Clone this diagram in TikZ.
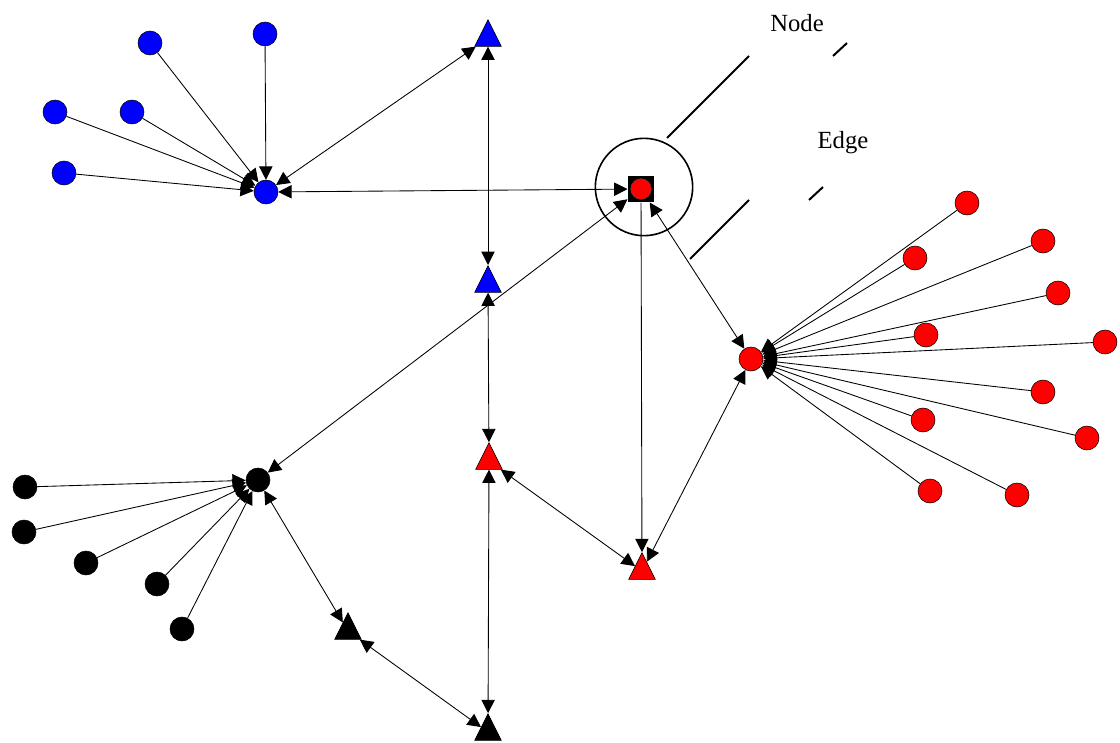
\documentclass[tikz,border=0pt]{standalone}
\usepackage{fontspec}
\setmainfont{Liberation Serif}
\usetikzlibrary{arrows.meta,shapes.geometric}

\tikzset{every picture/.style={line width=0.75pt}}
\tikzset{
  dot/.style={circle,draw=black,line width=0.4pt,inner sep=0pt,minimum size=18pt},
  bdot/.style={dot,fill=blue},
  rdot/.style={dot,fill=red},
  kdot/.style={dot,fill=black},
  tri/.style={isosceles triangle,isosceles triangle stretches,shape border rotate=90,minimum width=20pt,minimum height=20pt,inner sep=0pt,draw=black,line width=0.4pt,anchor=apex},
  link/.style={line width=0.65pt},
  callout/.style={line width=1.5pt},
  lbl/.style={font=\fontsize{18.5}{22}\selectfont,inner sep=0.75pt}
}

\begin{document}
\begin{tikzpicture}[x=0.75pt,y=0.75pt,yscale=-1,xscale=1,>={Triangle[length=10pt,width=10pt]}]
        \useasboundingbox (0,0) rectangle (1120,742);

        %Shape: Circles (blue group)
        \node[bdot] (bh) at (266,192) {};
        \foreach \p [count=\i] in {(150,43),(265,34),(55,112),(132,112),(64,173)}
          \node[bdot] (b\i) at \p {};
        %Shape: Circles (black group)
        \node[kdot] (kh) at (258,480) {};
        \foreach \p [count=\i] in {(25,487),(24,532),(86,563),(157,584),(182,629)}
          \node[kdot] (k\i) at \p {};
        %Shape: Circles (red group)
        \node[rdot] (rh) at (751,359) {};
        \foreach \p [count=\i] in {(967,203),(1043,241),(915,258),(1058,293),(926,335),(1105,342),(1043,392),(923,420),(1087,438),(930,491),(1017,495)}
          \node[rdot] (r\i) at \p {};

        %Shape: Triangles
        \node[tri,fill=blue] (bt1) at (488,19) {};
        \node[tri,fill=blue] (bt2) at (488,265) {};
        \node[tri,fill=red] (rt1) at (489,442) {};
        \node[tri,fill=red] (rt2) at (642,552) {};
        \node[tri,fill=black] (kt1) at (348,612) {};
        \node[tri,fill=black] (kt2) at (488,713) {};

        %Shape: Square with red dot
        \node[rectangle,fill=black,inner sep=0pt,minimum size=19.5pt] (sq) at (641,189) {};
        \node[circle,fill=red,draw=black!70,line width=0.3pt,inner sep=0pt,minimum size=15.5pt] (sqdot) at (641,189) {};

        %Straight Lines: leaves to hubs
        \foreach \i in {1,...,5} \draw[link,->] (b\i) -- (bh);
        \foreach \i in {1,...,5} \draw[link,->] (k\i) -- (kh);
        \foreach \i in {1,...,11} \draw[link,->] (r\i) -- (rh);

        %Straight Lines: backbone
        \draw[link,<->] (sq) -- (bh);
        \draw[link,<->] (bh) -- (bt1);
        \draw[link,<->] (bt1) -- (bt2);
        \draw[link,<->] (bt2) -- (rt1);
        \draw[link,<->] (rt1) -- (kt2);
        \draw[link,<->] (rt1) -- (rt2);
        \draw[link,->] (sq) -- (rt2);
        \draw[link,<->] (sq) -- (rh);
        \draw[link,<->] (rt2) -- (rh);
        \draw[link,<->] (sq) -- (kh);
        \draw[link,<->] (kh) -- (kt1);
        \draw[link,<->] (kt1) -- (kt2);

        %Shape: Circle round the square
        \node[circle,draw,line width=1.2pt,inner sep=0pt,minimum size=73pt] (ring) at (644,187) {};

        %Callout lines
        \coordinate (n1) at (667,138); \coordinate (n2) at (749,56);
        \coordinate (n3) at (833,56); \coordinate (n4) at (847,43);
        \coordinate (e1) at (690,259); \coordinate (e2) at (749,200);
        \coordinate (e3) at (809,200); \coordinate (e4) at (823,187);
        \draw[callout] (n1) -- (n2) (n3) -- (n4);
        \draw[callout] (e1) -- (e2) (e3) -- (e4);

        % Text Node
        \node[lbl] (nodelbl) at (797,23) {Node};
        % Text Node
        \node[lbl] (edgelbl) at (843,143) {Edge};
\end{tikzpicture}
\end{document}
